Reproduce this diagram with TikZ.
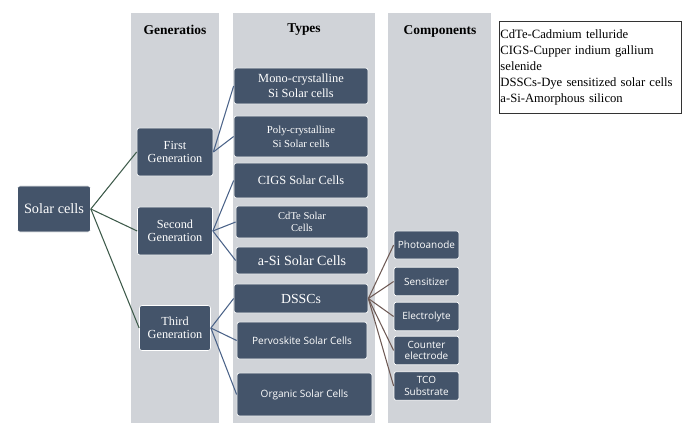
\documentclass[tikz,border=0pt]{standalone}
\usepackage{fontspec}
\setmainfont{Liberation Serif}
\newfontfamily\compfont{Open Sans}
\definecolor{boxblue}{HTML}{44546A}
\definecolor{colgray}{HTML}{D0D3D8}
\definecolor{genline}{HTML}{3D5A4A}
\definecolor{typeline}{HTML}{4A6288}
\definecolor{compline}{HTML}{6E5A55}
\tikzset{
    cellbox/.style={draw=white, line width=0.6pt, fill=boxblue, rounded corners=2pt, text=white, align=center, inner sep=1pt},
    colhead/.style={font=\fontsize{11.5}{13}\selectfont\bfseries},
}

\begin{document}
\begin{tikzpicture}[x=0.03cm, y=-0.03cm]
        \useasboundingbox (0, 0) rectangle (687, 423);

        % columns
        \fill [colgray] (131, 13) rectangle (219, 423);
        \fill [colgray] (233, 13) rectangle (375, 423);
        \fill [colgray] (388, 13) rectangle (491, 423);

        \node [colhead] (hgen) at (175, 30) {Generatios};
        \node [colhead] (htype) at (304, 30) {Types};
        \node [colhead] (hcomp) at (440, 31) {Components};

        % root and generations
        \node [cellbox, minimum width=2.19cm, minimum height=1.38cm, font=\fontsize{12.2}{14}\selectfont] (sc) at (54, 209) {Solar cells};
        \node [cellbox, minimum width=2.28cm, minimum height=1.44cm, font=\fontsize{10.5}{11.5}\selectfont] (gen1) at (175, 152) {First\\Generation};
        \node [cellbox, minimum width=2.25cm, minimum height=1.44cm, font=\fontsize{10.5}{11.5}\selectfont] (gen2) at (175, 231) {Second\\Generation};
        \node [cellbox, minimum width=2.13cm, minimum height=1.35cm, font=\fontsize{10.5}{11.5}\selectfont] (gen3) at (175, 328) {Third\\Generation};

        % types
        \node [cellbox, minimum width=4.02cm, minimum height=1.08cm, font=\fontsize{10.6}{13}\selectfont] (mono) at (301, 86) {Mono-crystalline\\Si Solar cells};
        \node [cellbox, minimum width=4.02cm, minimum height=1.23cm, font=\fontsize{9.2}{12}\selectfont] (poly) at (301, 136.5) {Poly-crystalline\\Si Solar cells};
        \node [cellbox, minimum width=4.02cm, minimum height=1.05cm, font=\fontsize{10.6}{13}\selectfont] (cigs) at (301, 180.5) {CIGS Solar Cells};
        \node [cellbox, minimum width=3.96cm, minimum height=0.96cm, font=\fontsize{9}{10.5}\selectfont] (cdte) at (302, 222) {CdTe Solar\\Cells};
        \node [cellbox, minimum width=3.96cm, minimum height=0.81cm, font=\fontsize{12}{14}\selectfont] (asi) at (302, 260.5) {a-Si Solar Cells};
        \node [cellbox, minimum width=4.02cm, minimum height=0.87cm, font=\fontsize{11.8}{14}\selectfont] (dssc) at (301, 298.5) {DSSCs};
        \node [cellbox, minimum width=3.9cm, minimum height=1.11cm, font=\compfont\fontsize{8.6}{11}\selectfont] (perov) at (302, 340.5) {Pervoskite Solar Cells};
        \node [cellbox, minimum width=4.05cm, minimum height=1.29cm, font=\compfont\fontsize{8.6}{11}\selectfont] (org) at (304.5, 394.5) {Organic Solar Cells};

        % components
        \node [cellbox, minimum width=1.95cm, minimum height=0.84cm, inner sep=0pt, font=\compfont\fontsize{8.5}{10}\selectfont] (photo) at (426.5, 245) {Photoanode};
        \node [cellbox, minimum width=1.95cm, minimum height=0.86cm, font=\compfont\fontsize{8.5}{10}\selectfont] (sens) at (426.5, 281.5) {Sensitizer};
        \node [cellbox, minimum width=1.95cm, minimum height=0.86cm, font=\compfont\fontsize{8.5}{10}\selectfont] (elec) at (426.5, 316.5) {Electrolyte};
        \node [cellbox, minimum width=1.95cm, minimum height=0.86cm, font=\compfont\fontsize{8.5}{10}\selectfont] (counter) at (426.5, 350.5) {Counter\\electrode};
        \node [cellbox, minimum width=1.95cm, minimum height=0.86cm, font=\compfont\fontsize{8.5}{10}\selectfont] (tco) at (426.5, 386) {TCO\\Substrate};

        % legend
        \node [draw=black!80, line width=0.8pt, anchor=north west, align=left, inner xsep=0.5pt, inner ysep=3pt,
               minimum width=5.46cm, minimum height=2.76cm, text width=5.4cm, font=\fontsize{10.8}{13.6}\selectfont] (legend) at (499, 21)
            {CdTe-Cadmium telluride\\CIGS-Cupper indium gallium\\selenide\\DSSCs-Dye sensitized solar cells\\a-Si-Amorphous silicon};

        % connectors
        \foreach \g in {gen1, gen2, gen3}
            \draw [genline, line width=0.9pt] (sc.east) -- (\g.west);
        \foreach \t in {mono, poly}
            \draw [typeline, line width=0.9pt] (gen1.east) -- (\t.west);
        \foreach \t in {cigs, cdte, asi}
            \draw [typeline, line width=0.9pt] (gen2.east) -- (\t.west);
        \foreach \t in {dssc, perov, org}
            \draw [typeline, line width=0.9pt] (gen3.east) -- (\t.west);
        \foreach \c in {photo, sens, elec, counter, tco}
            \draw [compline, line width=0.9pt] (dssc.east) -- (\c.west);
    \end{tikzpicture}
\end{document}
